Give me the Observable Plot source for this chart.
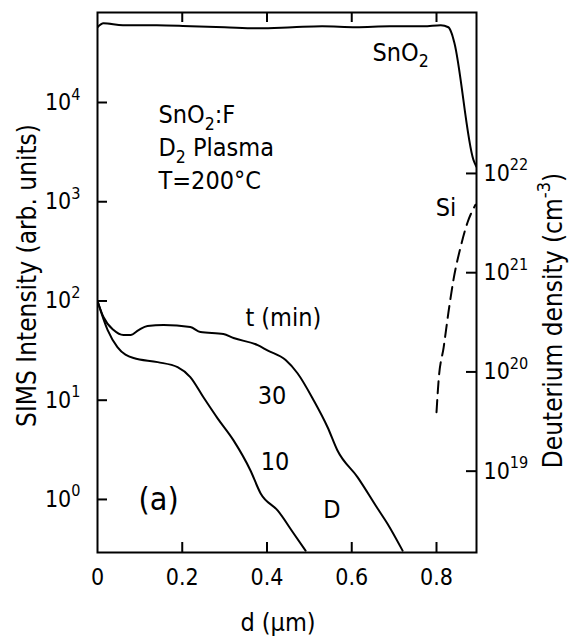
<!DOCTYPE html>
<html><head><meta charset="utf-8">
<script src="https://cdn.jsdelivr.net/npm/d3@7"></script>
<script src="https://cdn.jsdelivr.net/npm/@observablehq/plot@0.6"></script>
<style>body{margin:0;background:#fff} svg{display:block}</style>
</head><body><div id="chart"></div>
<script>
// SnO2 matrix signal (depth in µm, SIMS intensity in arb. units)
const sno2Depth = [0, 0.014, 0.06, 0.14, 0.22, 0.30, 0.38, 0.46, 0.53, 0.61, 0.69, 0.77, 0.81, 0.828, 0.836, 0.842, 0.887, 0.894];
const sno2Intensity = [57300, 62800, 60000, 60000, 58600, 57300, 55900, 57300, 58600, 57300, 58600, 58600, 60000, 57300, 49500, 40200, 2660, 2260];
// Deuterium profile, t = 30 min
const d30Depth = [0, 0.014, 0.038, 0.061, 0.078, 0.097, 0.118, 0.156, 0.219, 0.243, 0.297, 0.321, 0.378, 0.401, 0.444, 0.472, 0.510, 0.543, 0.566, 0.614, 0.661, 0.684, 0.72];
const d30Intensity = [100, 68.9, 50.9, 45.4, 45.4, 50.9, 55.9, 57.2, 54.6, 48.6, 46.4, 42.3, 35.9, 31.8, 25.4, 18.7, 10, 5.34, 3.13, 1.67, 0.81, 0.573, 0.305];
// Deuterium profile, t = 10 min
const d10Depth = [0, 0.024, 0.047, 0.085, 0.142, 0.189, 0.219, 0.250, 0.283, 0.321, 0.361, 0.385, 0.425, 0.463, 0.491];
const d10Intensity = [100, 50.9, 34.3, 26.6, 24.2, 21.5, 17.1, 10.7, 6.6, 3.94, 1.96, 1.15, 0.774, 0.454, 0.305];
// Si substrate signal (dashed)
const siDepth = [0.800, 0.805, 0.817, 0.828, 0.840, 0.857, 0.873, 0.892];
const siIntensity = [7.57, 15.9, 34.3, 75.7, 163, 351, 614, 933];

// axes
const xTicks = [0, 0.2, 0.4, 0.6, 0.8];
const leftTicks = [1, 10, 100, 1000, 10000];
const densityExponents = [19, 20, 21, 22];
const densityOffset = 18.715; // log10(density) - log10(intensity)

// annotations
const notes = [
  {x: 0.144, y: 7400, text: "SnO_{2}:F"},
  {x: 0.144, y: 3440, text: "D_{2} Plasma"},
  {x: 0.144, y: 1600, text: "T=200°C"},
  {x: 0.649, y: 31500, text: "SnO_{2}"},
  {x: 0.798, y: 865, text: "Si"},
  {x: 0.349, y: 66.6, text: "t (min)"},
  {x: 0.378, y: 10.9, text: "30"},
  {x: 0.385, y: 2.36, text: "10"},
  {x: 0.533, y: 0.775, text: "D"}
];
const panelLabel = [{x: 0.097, y: 1, text: "(a)"}];

const toRows = (xs, ys) => xs.map((x, i) => ({x, y: ys[i]}));
const sup = e => `10^{${e}}`;

const W = 571, H = 644, ML = 97, MR = 95, MT = 12, MB = 92, TICK = 10;
const innerW = W - ML - MR, innerH = H - MT - MB;
const densityTicks = densityExponents.map(e => 10 ** (e - densityOffset));

const plot = Plot.plot({
  width: W,
  height: H,
  marginLeft: ML,
  marginRight: MR,
  marginTop: MT,
  marginBottom: MB,
  style: {fontFamily: "'DejaVu Sans Condensed', 'DejaVu Sans', sans-serif", fontSize: "23px", color: "black", background: "white"},
  x: {domain: [0, 0.8944]},
  y: {type: "log", domain: [0.292, 80700]},
  marks: [
    Plot.frame({strokeWidth: 2}),
    // inward ticks
    Plot.ruleX(xTicks.slice(1), {x: d => d, insetTop: innerH - TICK, strokeWidth: 2, stroke: "black"}),
    Plot.ruleX(xTicks.slice(1), {x: d => d, insetBottom: innerH - TICK, strokeWidth: 2, stroke: "black"}),
    Plot.ruleY(leftTicks, {y: d => d, insetRight: innerW - TICK, strokeWidth: 2, stroke: "black"}),
    Plot.ruleY(densityTicks, {y: d => d, insetLeft: innerW - TICK, strokeWidth: 2, stroke: "black"}),
    // tick labels
    Plot.axisX({anchor: "bottom", ticks: xTicks, tickFormat: d => d === 0 ? "0" : d.toFixed(1), tickSize: 0, tickPadding: 16, label: null}),
    Plot.axisY({anchor: "left", ticks: leftTicks, tickFormat: d => sup(Math.round(Math.log10(d))), tickSize: 0, tickPadding: 17, label: null}),
    Plot.axisY({anchor: "right", ticks: densityTicks, tickFormat: d => sup(Math.round(Math.log10(d) + densityOffset)), tickSize: 0, tickPadding: 7, label: null}),
    Plot.line(toRows(sno2Depth, sno2Intensity), {x: "x", y: "y", curve: "monotone-x", strokeWidth: 2, clip: true}),
    Plot.line(toRows(d30Depth, d30Intensity), {x: "x", y: "y", curve: "monotone-x", strokeWidth: 2, clip: true}),
    Plot.line(toRows(d10Depth, d10Intensity), {x: "x", y: "y", curve: "monotone-x", strokeWidth: 2, clip: true}),
    Plot.line(toRows(siDepth, siIntensity), {x: "x", y: "y", curve: "monotone-x", strokeWidth: 2, strokeDasharray: "12,7", clip: true}),
    Plot.text(notes, {x: "x", y: "y", text: "text", textAnchor: "start", lineAnchor: "middle", fontSize: 25}),
    Plot.text(panelLabel, {x: "x", y: "y", text: "text", textAnchor: "start", lineAnchor: "middle", fontSize: 32}),
    Plot.text(["SIMS Intensity (arb. units)"], {frameAnchor: "left", rotate: -90, dx: -70, dy: -7, textAnchor: "middle", lineAnchor: "middle", fontSize: 26}),
    Plot.text(["Deuterium density (cm^{-3})"], {frameAnchor: "right", rotate: -90, dx: 77, dy: 38, textAnchor: "middle", lineAnchor: "middle", fontSize: 26}),
    Plot.text(["d (µm)"], {frameAnchor: "bottom", dx: -9, dy: 70, textAnchor: "middle", lineAnchor: "middle", fontSize: 25})
  ]
});

function richify(svg) {
  d3.select(svg).selectAll("text").each(function () {
    if (this.querySelector("tspan")) return;
    const s = this.textContent;
    if (!/[\^_]\{/.test(s)) return;
    const parts = s.split(/([\^_]\{[^}]*\})/).filter(p => p !== "");
    this.textContent = "";
    let shift = 0;
    for (const p of parts) {
      const m = p.match(/^([\^_])\{([^}]*)\}$/);
      const ts = document.createElementNS("http://www.w3.org/2000/svg", "tspan");
      if (m) {
        const target = m[1] === "^" ? -0.45 : 0.25;
        ts.setAttribute("font-size", "70%");
        ts.setAttribute("dy", ((target - shift) / 0.7).toFixed(3) + "em");
        shift = target;
        ts.textContent = m[2];
      } else {
        ts.setAttribute("dy", (-shift).toFixed(3) + "em");
        shift = 0;
        ts.textContent = p;
      }
      this.appendChild(ts);
    }
  });
}
richify(plot);
document.getElementById("chart").appendChild(plot);
</script>
</body></html>
